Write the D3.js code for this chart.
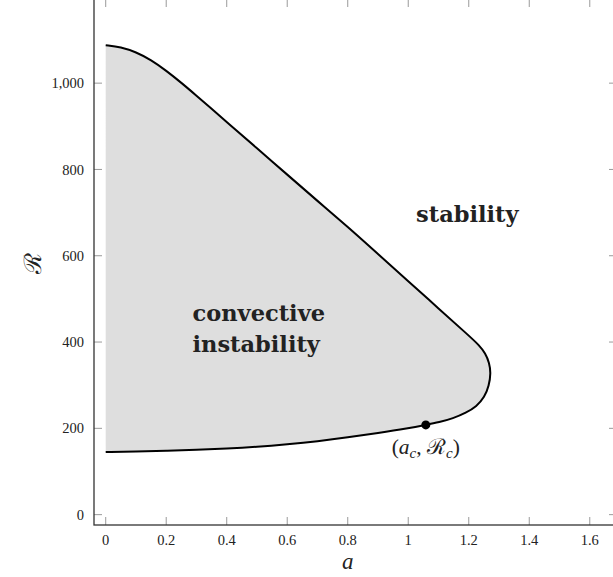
<!DOCTYPE html>
<html>
<head>
<meta charset="utf-8">
<script src="https://cdn.jsdelivr.net/npm/d3@7"></script>
<style>
  body { margin: 0; background: #fff; }
  svg { display: block; }
  text { font-family: "Liberation Serif", "DejaVu Serif", serif; fill: #222; }
</style>
</head>
<body>
<svg width="613" height="577"></svg>
<script>
// neutral curve, traced clockwise from the top at a = 0 round the nose and back along the bottom
var curveA = [0, 0.05, 0.1, 0.15, 0.2, 0.25, 0.3, 0.35, 0.4, 0.5, 0.6, 0.7, 0.8, 0.9, 1.0, 1.1, 1.2, 1.234, 1.255, 1.268, 1.273,
              1.267, 1.252, 1.226, 1.191, 1.148, 1.102, 1.059, 1.0, 0.9, 0.8, 0.7, 0.6, 0.5, 0.4, 0.3, 0.2, 0.1, 0];
var curveR = [1088, 1084, 1072, 1054, 1029, 1001, 971, 941, 910, 849, 788, 727, 667, 604, 541, 478, 415, 393, 374, 352, 328,
              299, 272, 251, 236, 223, 214, 208, 200, 189, 179, 170, 163, 157, 153, 150, 148, 146.5, 145];

var critA = 1.058, critR = 208;

var xTicks = [0, 0.2, 0.4, 0.6, 0.8, 1, 1.2, 1.4, 1.6];
var yTicks = [0, 200, 400, 600, 800, 1000];

var svg = d3.select("svg"),
    plotL = 94, plotR = 617, plotT = -1, plotB = 525,
    tickLen = 8;

var x = d3.scaleLinear().domain([-0.0387, 1.69]).range([plotL, plotR]);
var y = d3.scaleLinear().domain([-24, 1195]).range([plotB, plotT]);

var pts = curveA.map(function(a, i) { return [a, curveR[i]]; });

var line = d3.line()
    .x(function(d) { return x(d[0]); })
    .y(function(d) { return y(d[1]); })
    .curve(d3.curveBasis);

// shaded region, closed along a = 0
svg.append("path")
    .datum(pts)
    .attr("d", line)
    .style("fill", "#dedede")
    .style("stroke", "none");

svg.append("path")
    .datum(pts)
    .attr("d", line)
    .style("fill", "none")
    .style("stroke", "#000")
    .style("stroke-width", 2);

// ticks on all four sides, pointing inwards
var ticks = svg.append("g").style("stroke", "#9a9a9a").style("stroke-width", 1);
xTicks.forEach(function(t) {
  ticks.append("line").attr("x1", x(t)).attr("x2", x(t)).attr("y1", plotB).attr("y2", plotB - tickLen);
  ticks.append("line").attr("x1", x(t)).attr("x2", x(t)).attr("y1", plotT).attr("y2", plotT + tickLen);
});
yTicks.forEach(function(t) {
  ticks.append("line").attr("x1", plotL).attr("x2", plotL + tickLen).attr("y1", y(t)).attr("y2", y(t));
  ticks.append("line").attr("x1", plotR).attr("x2", plotR - tickLen).attr("y1", y(t)).attr("y2", y(t));
});

svg.append("rect")
    .attr("x", plotL).attr("y", plotT)
    .attr("width", plotR - plotL).attr("height", plotB - plotT)
    .style("fill", "none").style("stroke", "#333").style("stroke-width", 1.3);

var fmtX = d3.format("~g"), fmtY = d3.format(",");

svg.append("g").selectAll("text")
    .data(xTicks)
  .enter().append("text")
    .attr("x", function(d) { return x(d); })
    .attr("y", plotB + 20)
    .attr("text-anchor", "middle")
    .style("font-size", "14.5px")
    .text(function(d) { return fmtX(d); });

svg.append("g").selectAll("text")
    .data(yTicks)
  .enter().append("text")
    .attr("x", plotL - 10)
    .attr("y", function(d) { return y(d); })
    .attr("dy", "0.35em")
    .attr("text-anchor", "end")
    .style("font-size", "14.5px")
    .text(function(d) { return fmtY(d); });

svg.append("text")
    .attr("x", x(0.8)).attr("y", plotB + 44)
    .attr("text-anchor", "middle")
    .style("font-size", "23px").style("font-style", "italic")
    .text("a");

svg.append("text")
    .attr("transform", "translate(41," + y(582) + ") rotate(-90)")
    .attr("text-anchor", "middle")
    .style("font-size", "24px")
    .style("font-family", "'DejaVu Serif', serif")
    .text("\u211B");

// critical point
svg.append("circle")
    .attr("cx", x(critA)).attr("cy", y(critR)).attr("r", 4.5)
    .style("fill", "#000");

var lab = svg.append("text")
    .attr("x", x(1.058)).attr("y", y(141))
    .attr("text-anchor", "middle")
    .style("font-size", "21.5px");
lab.append("tspan").text("(");
lab.append("tspan").style("font-style", "italic").text("a");
lab.append("tspan").attr("dy", 4).style("font-size", "15px").style("font-style", "italic").text("c");
lab.append("tspan").attr("dy", -4).text(", ");
lab.append("tspan").style("font-family", "'DejaVu Serif', serif").text("\u211B");
lab.append("tspan").attr("dy", 4).style("font-size", "15px").style("font-style", "italic").text("c");
lab.append("tspan").attr("dy", -4).text(")");

function bold(lines, a, r) {
  var t = svg.append("text")
      .attr("x", x(a)).attr("y", y(r))
      .style("font-family", "'DejaVu Serif', serif")
      .style("font-weight", "bold")
      .style("font-size", "22.5px");
  lines.forEach(function(s, i) {
    t.append("tspan").attr("x", x(a)).attr("dy", i ? 31 : 0).text(s);
  });
  return t;
}
bold(["stability"], 1.026, 678);
bold(["convective", "instability"], 0.287, 448);
</script>
</body>
</html>
